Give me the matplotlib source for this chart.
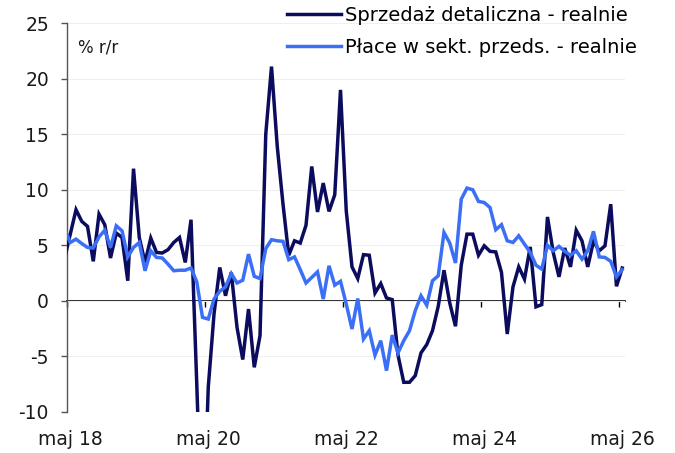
import numpy as np
import matplotlib
matplotlib.use('Agg')
import matplotlib.pyplot as plt

# month index: 0 = maj 2018 (first point, -1, is partly outside the axis)
months = np.arange(-1, 97)

sprzedaz = [3.8, 6.0, 8.2, 7.15, 6.7, 3.55, 7.8, 6.85, 3.85, 6.1,
            5.7, 1.8, 11.9, 5.7, 3.45, 5.65, 4.35, 4.3, 4.6, 5.25,
            5.7, 3.45, 7.3, -7.5, -22.9, -7.8, -1.2, 3.0, 0.45, 2.55,
            -2.4, -5.3, -0.75, -6.0, -3.15, 15.0, 21.1, 13.9, 8.7, 4.1,
            5.4, 5.2, 6.8, 12.1, 8.0, 10.6, 8.05, 9.55, 19.0, 8.1,
            3.05, 2.0, 4.15, 4.1, 0.7, 1.55, 0.25, 0.1, -4.9, -7.35,
            -7.35, -6.75, -4.7, -3.95, -2.7, -0.5, 2.75, -0.2, -2.3, 3.2,
            6.0, 6.0, 4.1, 4.95, 4.45, 4.4, 2.55, -3.0, 1.25, 3.05,
            1.95, 4.85, -0.55, -0.35, 7.55, 4.35, 2.15, 4.75, 3.05, 6.35,
            5.4, 3.05, 5.35, 4.5, 4.95, 8.7, 1.3, 2.95]

place = [6.5, 5.25, 5.55, 5.15, 4.8, 4.75, 5.75, 6.35, 4.8, 6.75,
         6.3, 3.95, 4.8, 5.25, 2.7, 4.5, 3.9, 3.85, 3.3, 2.7,
         2.75, 2.75, 2.95, 1.7, -1.5, -1.65, 0.15, 0.85, 1.25, 2.45,
         1.6, 1.85, 4.2, 2.2, 2.0, 4.7, 5.5, 5.4, 5.35, 3.7,
         3.95, 2.8, 1.6, 2.1, 2.6, 0.15, 3.15, 1.4, 1.75, -0.3,
         -2.55, 0.2, -3.45, -2.7, -4.9, -3.6, -6.3, -3.1, -4.7, -3.6,
         -2.7, -0.9, 0.45, -0.4, 1.8, 2.25, 6.15, 5.2, 3.4, 9.15,
         10.15, 10.0, 8.95, 8.85, 8.4, 6.4, 6.85, 5.4, 5.25, 5.85,
         5.1, 4.35, 3.2, 2.85, 5.0, 4.5, 4.9, 4.45, 4.1, 4.5,
         3.75, 4.5, 6.25, 3.95, 3.9, 3.55, 2.15, 2.8]

series_names = ['Sprzedaż detaliczna - realnie', 'Płace w sekt. przeds. - realnie']
tick_months = [0, 24, 48, 72, 96]
tick_labels = ['maj 18', 'maj 20', 'maj 22', 'maj 24', 'maj 26']
y_ticks = [-10, -5, 0, 5, 10, 15, 20, 25]

plt.rcParams['font.family'] = ['DejaVu Sans']
FS = 13.5
DARK = '#0c0c5e'
BLUE = '#3b6ff5'
TXT = '#1a1a1a'

W, H = 675, 453
fig = plt.figure(figsize=(W / 100, H / 100), dpi=100)
ax = fig.add_axes([67.4 / W, 1 - 411.7 / H, (625.1 - 67.4) / W, (411.7 - 23.3) / H])

ax.plot(months, sprzedaz, color=DARK, lw=2.5, label=series_names[0],
        solid_joinstyle='miter', zorder=3)
ax.plot(months, place, color=BLUE, lw=2.5, label=series_names[1],
        solid_joinstyle='miter', zorder=4)

ax.set_xlim(-0.5, 96.5)
ax.set_ylim(-10, 25)
ax.set_yticks(y_ticks)
ax.set_yticklabels([str(v) for v in y_ticks], fontsize=FS, color=TXT)
ax.yaxis.grid(True, color='#efefef', lw=0.8)
ax.set_axisbelow(True)

for s in ['top', 'right', 'bottom']:
    ax.spines[s].set_visible(False)
ax.spines['left'].set_color('#555555')
ax.spines['left'].set_linewidth(1.0)
ax.tick_params(axis='y', direction='out', length=4.3, width=1.0, color='#555555', pad=9)

ax.set_xticks(tick_months)
ax.set_xticklabels(tick_labels, fontsize=FS, color=TXT)
ax.tick_params(axis='x', length=0, pad=13)

# zero line with tick marks between years
zero_frac = (0 - (-10)) / (25 - (-10))
sec = ax.secondary_xaxis(zero_frac)
sec.set_xticks([m - 0.5 for m in tick_months])
sec.set_xticklabels([])
sec.tick_params(axis='x', direction='out', length=4.5, width=1.0, color='black')
sec.spines['bottom'].set_color('black')
sec.spines['bottom'].set_linewidth(1.2)

fig.text(78 / W, 1 - 48 / H, '% r/r', ha='left', va='center', fontsize=12, color=TXT)

ax.legend(loc='upper left', bbox_to_anchor=(287 / W, 1 - 6 / H), bbox_transform=fig.transFigure,
          frameon=False, fontsize=14, handlelength=2.8, handletextpad=0.18,
          labelspacing=0.65, borderpad=0, borderaxespad=0)

fig.savefig('out.png', dpi=100)
